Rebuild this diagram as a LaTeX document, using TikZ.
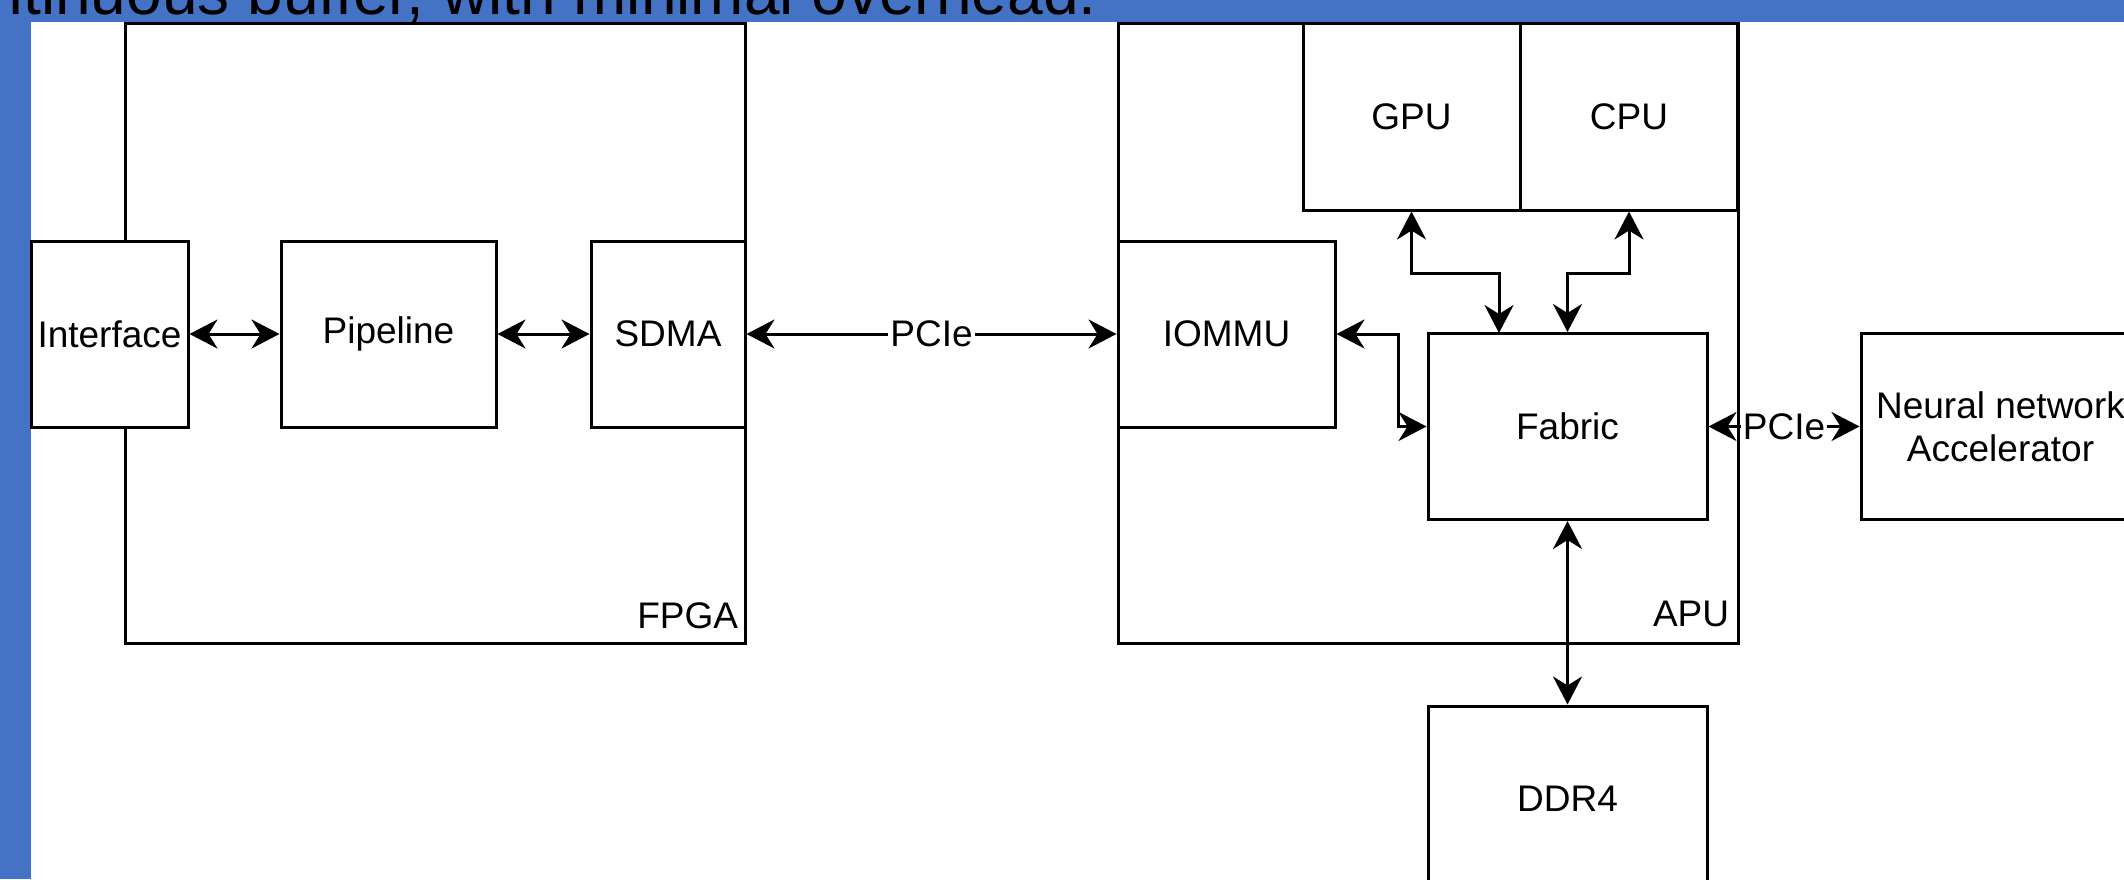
\documentclass[tikz,border=0pt]{standalone}
\usepackage{fontspec}
\setmainfont{Liberation Sans}
\usepackage{tikz}
\usetikzlibrary{arrows.meta,positioning,calc}
\definecolor{slideblue}{HTML}{4472C4}

\tikzset{
  blk/.style={draw, fill=white, line width=1.5pt, minimum width=#1, minimum height=93pt,
    inner sep=0pt, align=center, font=\fontsize{18.5}{21.5}\selectfont},
  blk/.default=108.5pt,
  link/.style={line width=1.5pt,
    {Stealth[length=14pt,width=14.5pt,inset=4.5pt]}-{Stealth[length=14pt,width=14.5pt,inset=4.5pt]}},
  bus/.style={fill=white, inner sep=1pt, font=\fontsize{18.5}{21.5}\selectfont},
  tag/.style={anchor=base east, inner sep=0pt, font=\fontsize{18.5}{21.5}\selectfont}
}

\begin{document}
\begin{tikzpicture}[x=0.5pt, y=-0.5pt]
    \useasboundingbox (0,0) rectangle (2124,879);
    \clip (0,0) rectangle (2124,879);
    % Slide background
    \fill[slideblue] (0,0) rectangle (2124,879);
    \fill[white] (31,22) rectangle (2124,879);
    \node[anchor=base east, inner sep=0pt, font=\fontsize{32}{34}\selectfont] (caption) at (1097,14)
        {ntinuous buffer, with minimal overhead.};
    % FPGA
    \node[blk=310pt, minimum height=310pt] (fpga) at (435,333) {};
    \node[tag, xshift=-4pt, yshift=8pt] (fpgatag) at (fpga.south east) {FPGA};
    \node[blk=78.5pt] (iface) at (109.5,334) {Interface};
    \node[blk=107.5pt] (pipe) at (388.5,334) {Pipeline};
    \node[blk=77pt] (sdma) at (668,334) {SDMA};
    % APU
    \node[blk=310pt, minimum height=310pt] (apu) at (1428,333) {};
    \node[tag, xshift=-5pt, yshift=9pt] (aputag) at (apu.south east) {APU};
    \node[blk, minimum height=93.5pt] (gpu) at (1411.5,116.5) {GPU};
    \node[blk, minimum height=93.5pt] (cpu) at (1629,116.5) {CPU};
    \node[blk] (iommu) at (1226.5,334) {IOMMU};
    \node[blk=139.5pt] (fabric) at (1567.5,426.5) {Fabric};
    \coordinate (fabgpu) at (1499,333);
    % Outside the APU
    \node[blk=139.5pt] (nna) at (2000.5,426.5) {Neural network\\Accelerator};
    \node[blk=139.5pt] (ddr) at (1567.5,799) {DDR4};
    % Links
    \draw[link] (iface) -- (pipe);
    \draw[link] (pipe) -- (sdma);
    \draw[link] (sdma) -- node[bus] (pcie1) {PCIe} (iommu);
    \draw[link] (iommu.east) -- ++(62,0) |- (fabric.west);
    \draw[link] (gpu.south) -- ++(0,62) -| (fabgpu);
    \draw[link] (cpu.south) -- ++(0,62) -| (fabric.north);
    \draw[link] (fabric) -- node[bus] (pcie2) {PCIe} (nna);
    \draw[link] (fabric) -- (ddr);
\end{tikzpicture}
\end{document}
